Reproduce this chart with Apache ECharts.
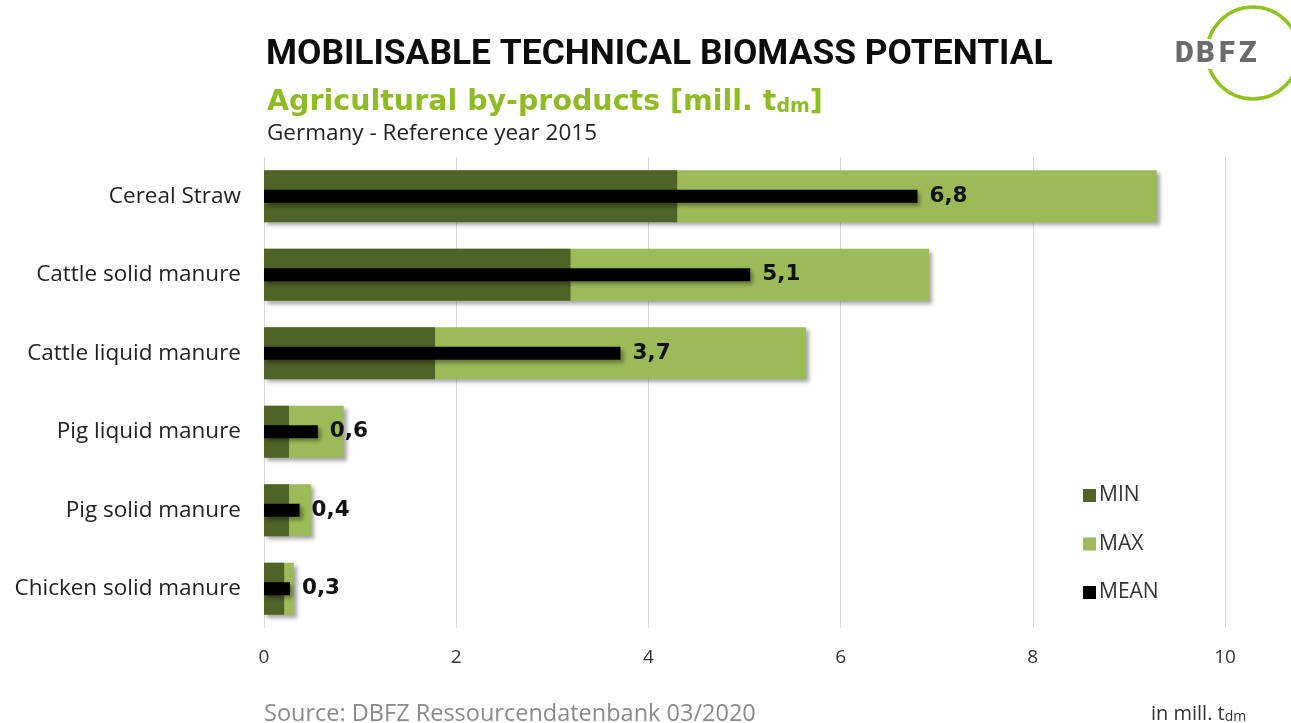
<!DOCTYPE html>
<html>
<head>
<meta charset="utf-8">
<script src="https://cdn.jsdelivr.net/npm/echarts@6/dist/echarts.min.js"></script>
<style>
html,body{margin:0;padding:0;background:#fff;}
#chart{width:1291px;height:723px;}
</style>
</head>
<body>
<div id="chart"></div>
<script>
const categories = ['Cereal Straw','Cattle solid manure','Cattle liquid manure','Pig liquid manure','Pig solid manure','Chicken solid manure'];
const minValues  = [4.30, 3.19, 1.78, 0.26, 0.26, 0.21];
const maxValues  = [9.29, 6.92, 5.64, 0.83, 0.49, 0.31];
const meanValues = [6.8, 5.06, 3.71, 0.56, 0.37, 0.27];
const xTicks = [0, 2, 4, 6, 8, 10];

const chart = echarts.init(document.getElementById('chart'));
const shadow = {shadowBlur:4, shadowOffsetX:3, shadowOffsetY:3, shadowColor:'rgba(0,0,0,0.35)'};
const logoLetters = [['D',1175],['B',1196],['F',1219],['Z',1239]];
const option = {
  backgroundColor:'#fff',
  animation:false,
  grid:{left:264, right:66, top:157, height:471, containLabel:false},
  xAxis:{
    type:'value', min:xTicks[0], max:xTicks[xTicks.length-1], interval:2,
    axisLine:{show:false}, axisTick:{show:false},
    splitLine:{show:true, lineStyle:{color:'#d9d9d9', width:1}},
    axisLabel:{fontFamily:'Open Sans', fontSize:19, color:'#333', margin:20}
  },
  yAxis:[{
    type:'category', data:categories, inverse:true,
    axisLine:{show:false}, axisTick:{show:false},
    axisLabel:{fontFamily:'Open Sans', fontSize:22.5, color:'#222', margin:23}
  },{
    type:'category', data:categories, inverse:true, show:false
  }],
  legend:{
    orient:'vertical', left:1078, top:480, itemWidth:13, itemHeight:13, itemGap:27.5,
    data:['MIN','MAX','MEAN'],
    icon:'rect',
    textStyle:{fontFamily:'Open Sans', fontSize:21, color:'#333', padding:[0,0,0,-2]}
  },
  title:[
    {text:'MOBILISABLE TECHNICAL BIOMASS POTENTIAL', left:261, top:33,
     textStyle:{fontFamily:'Roboto', fontWeight:'bold', fontSize:35.4, color:'#0d0d0d'}},
    {text:'{a|Agricultural by-products [mill. t}{b|dm}{a|]}', left:262, top:74,
     textStyle:{rich:{
       a:{fontFamily:'DejaVu Sans', fontWeight:'bold', fontSize:28.5, color:'#8fbc24', lineHeight:38, verticalAlign:'bottom'},
       b:{fontFamily:'DejaVu Sans', fontWeight:'bold', fontSize:19, color:'#8fbc24', lineHeight:12, verticalAlign:'bottom'}
     }}},
    {text:'Germany - Reference year 2015', left:262, top:117,
     textStyle:{fontFamily:'Open Sans', fontWeight:'normal', fontSize:22.5, color:'#222'}},
    {text:'Source: DBFZ Ressourcendatenbank 03/2020', left:259, top:697,
     textStyle:{fontFamily:'Open Sans', fontWeight:'normal', fontSize:23.5, color:'#8a8a8a'}},
    {text:'{a|in mill. t}{b|dm}', left:1146, top:693,
     textStyle:{rich:{
       a:{fontFamily:'Open Sans', fontWeight:'normal', fontSize:20, color:'#333', lineHeight:26, verticalAlign:'bottom'},
       b:{fontFamily:'Open Sans', fontWeight:'normal', fontSize:14, color:'#333', lineHeight:10, verticalAlign:'bottom'}
     }}}
  ],
  graphic:[
    {type:'arc', z:1, shape:{cx:1253, cy:53, r:46, startAngle:0, endAngle:Math.PI*2}, style:{stroke:'#8fc31f', lineWidth:3.5, fill:null}},
    {type:'rect', z:2, shape:{x:1170, y:39, width:95, height:30}, style:{fill:'#fff'}},
  ].concat(logoLetters.map(([ch,x]) => ({type:'text', z:3, left:x, top:40,
     style:{text:ch, fontFamily:'Roboto', fontWeight:900, fontSize:29, fill:'#6b6b6b'}}))),
  series:[
    {name:'MAX', type:'bar', yAxisIndex:0, data:maxValues, barWidth:52, barGap:'-100%',
     itemStyle:Object.assign({color:'#9bbb59'}, shadow), z:2},
    {name:'MIN', type:'bar', yAxisIndex:0, data:minValues, barWidth:52, barGap:'-100%',
     itemStyle:{color:'#4f6228'}, z:3},
    {name:'MEAN', type:'bar', yAxisIndex:1, data:meanValues, barWidth:13,
     itemStyle:Object.assign({color:'#000'}, shadow), z:4,
     label:{show:true, position:'right', distance:12, fontFamily:'DejaVu Sans', fontWeight:'bold', fontSize:21.5, color:'#111',
       formatter:p => p.value.toFixed(1).replace('.', ',')}}
  ]
};
chart.setOption(option);
</script>
</body>
</html>
